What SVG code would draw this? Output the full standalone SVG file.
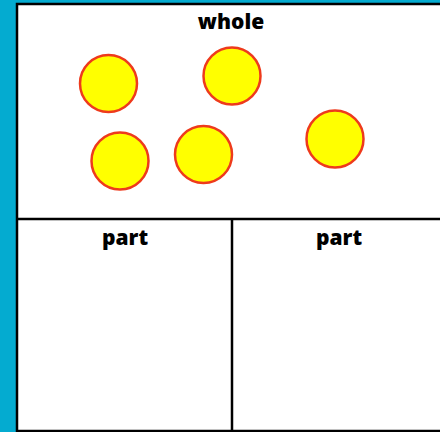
<svg xmlns="http://www.w3.org/2000/svg" width="440" height="432" viewBox="0 0 440 432">
<style>
.c{fill:#ffff00;stroke:#ee3a1c;stroke-width:2.5}
.t{font-family:"Open Sans","DejaVu Sans",sans-serif;font-weight:800;font-size:21px;fill:#000;text-anchor:middle}
.l{stroke:#000;stroke-width:2.5;fill:none}
</style>
<rect width="440" height="432" fill="#04abd0"/>
<rect x="17" y="4" width="430" height="427" fill="#fff" stroke="#000" stroke-width="2.5"/>
<g id="lines">
<line class="l" x1="17" y1="219" x2="440" y2="219"/>
<line class="l" x1="232" y1="219" x2="232" y2="432"/>
</g>
<g id="whole"><text class="t" x="231" y="29">whole</text></g>
<g id="part1"><text class="t" x="125" y="245">part</text></g>
<g id="part2"><text class="t" x="339" y="245">part</text></g>
<g id="circles">
<circle class="c" cx="108.5" cy="83.5" r="28.5"/>
<circle class="c" cx="232" cy="76" r="28.5"/>
<circle class="c" cx="120" cy="161" r="28.5"/>
<circle class="c" cx="203.5" cy="154.5" r="28.5"/>
<circle class="c" cx="335" cy="139" r="28.5"/>
</g>
</svg>
